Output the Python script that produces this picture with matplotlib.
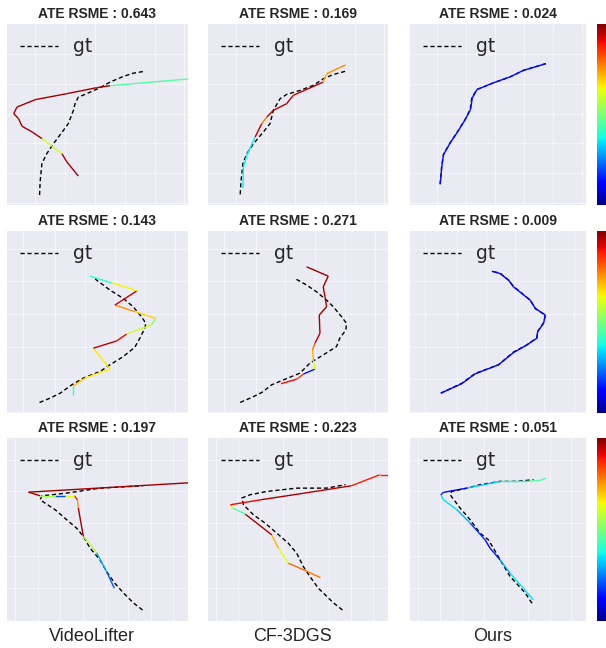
import numpy as np
import matplotlib
matplotlib.use("Agg")
import matplotlib.pyplot as plt
import seaborn as sns
from matplotlib.collections import LineCollection
from matplotlib.lines import Line2D

sns.set_style("darkgrid")
plt.rcParams['font.family'] = ['DejaVu Sans']

# trajectories in panel units (0-100), gt = dashed ground truth, est = coloured estimate
# row 1
gt_11 = [(18.0, 5.5), (18.3, 12.8), (19.3, 22.9), (22.0, 28.4), (25.7, 33.9), (31.2, 41.3), (33.9, 45.0),
         (36.7, 52.3), (37.6, 56.0), (39.4, 59.6), (44.0, 61.5), (51.4, 64.8), (56.9, 67.9), (64.2, 71.0),
         (69.7, 72.8), (76.1, 73.9)]
est_11 = [(39.4, 16.0), (33.0, 23.9), (30.3, 28.4), (19.3, 36.7), (13.8, 40.4), (8.3, 43.5), (6.4, 47.7),
          (3.7, 50.5), (5.5, 54.1), (15.6, 58.2), (33.0, 61.5), (49.5, 64.8), (56.9, 65.9), (102.0, 69.8)]
err_11 = [0.97, 0.97, 0.6, 0.97, 0.97, 0.97, 0.97, 0.97, 0.97, 0.97, 0.97, 0.97, 0.45]

gt_12 = [(17.9, 5.9), (18.3, 12.8), (19.4, 22.9), (21.6, 28.4), (25.3, 33.9), (30.8, 40.4), (34.5, 45.0),
         (36.3, 52.3), (40.0, 58.7), (43.7, 61.1), (51.1, 63.3), (58.5, 66.1), (64.0, 69.7), (69.6, 72.1),
         (76.4, 73.9)]
est_12 = [(19.4, 9.2), (19.7, 21.1), (21.6, 27.5), (26.2, 37.6), (29.9, 45.0), (32.7, 48.6), (36.3, 52.3),
          (43.7, 56.0), (47.4, 60.6), (64.0, 67.9), (65.9, 72.5), (76.4, 77.4)]
err_12 = [0.36, 0.36, 0.36, 0.95, 0.78, 0.95, 0.95, 0.95, 0.95, 0.72, 0.76]

gt_13 = [(17.1, 11.4), (18.0, 21.5), (19.0, 27.9), (22.8, 34.4), (26.6, 39.9), (31.3, 47.2), (34.2, 52.8),
         (35.1, 59.2), (38.0, 63.8), (47.4, 67.5), (56.9, 70.8), (64.5, 74.4), (77.2, 78.1)]
est_13 = [(17.2, 11.6), (18.1, 21.5), (19.1, 27.9), (22.9, 34.4), (26.7, 39.9), (31.4, 47.2), (34.4, 52.8),
          (35.4, 59.2), (38.1, 63.8), (47.4, 67.5), (56.9, 70.8), (64.5, 74.4), (77.2, 78.1)]
err_13 = [0.14] * 12

# row 2
gt_21 = [(18.0, 5.8), (23.9, 8.2), (29.4, 10.9), (35.8, 15.5), (42.2, 19.2), (51.4, 22.8), (56.9, 26.5),
         (64.2, 31.0), (70.6, 36.1), (73.4, 41.1), (76.1, 46.5), (76.7, 49.3), (74.3, 52.9), (69.7, 58.4),
         (64.2, 63.0), (56.9, 67.5), (53.2, 70.3), (49.5, 73.0), (48.6, 73.9)]
est_21 = [(36.3, 10.0), (36.3, 14.6), (43.1, 19.2), (56.9, 24.1), (47.7, 35.6), (60.6, 39.6), (66.1, 43.4),
          (79.8, 48.4), (82.2, 52.0), (70.6, 55.7), (59.6, 59.3), (71.9, 67.2), (57.8, 71.5), (45.9, 75.2)]
err_21 = [0.4, 0.7, 0.66, 0.66, 0.95, 0.9, 0.6, 0.5, 0.68, 0.75, 0.93, 0.65, 0.4]

gt_22 = [(17.9, 5.8), (24.4, 8.6), (29.9, 11.3), (35.4, 15.5), (41.9, 18.2), (51.1, 21.9), (56.6, 27.4),
         (64.0, 31.9), (71.4, 36.5), (73.2, 41.1), (76.6, 45.6), (76.9, 49.3), (74.2, 52.9), (69.6, 58.4),
         (65.9, 62.0), (60.3, 66.6), (54.8, 70.3), (48.3, 73.9)]
est_22 = [(40.6, 16.1), (49.3, 18.6), (53.0, 21.4), (59.4, 24.1), (58.5, 29.2), (58.1, 34.7), (59.4, 38.3),
          (62.2, 43.8), (61.8, 53.8), (65.9, 58.4), (65.0, 63.9), (64.0, 69.3), (66.8, 75.2), (54.8, 80.3)]
err_22 = [0.9, 0.85, 0.15, 0.62, 0.72, 0.8, 0.95, 0.97, 0.97, 0.97, 0.97, 0.97, 0.97]

gt_23 = [(17.5, 10.9), (29.4, 16.3), (37.0, 21.7), (50.3, 26.5), (58.8, 33.5), (66.4, 37.4), (72.1, 41.3),
         (72.5, 44.7), (75.9, 49.6), (76.9, 53.8), (71.2, 57.3), (68.3, 62.0), (58.8, 69.6), (56.0, 73.0),
         (51.2, 76.8), (46.5, 77.9)]
est_23 = [(17.5, 10.9), (29.4, 16.1), (37.0, 21.5), (50.3, 26.5), (58.8, 33.2), (66.4, 37.4), (72.1, 41.1),
          (72.5, 44.7), (75.9, 49.3), (76.9, 53.8), (71.2, 57.5), (68.3, 62.0), (58.8, 69.3), (56.0, 73.0),
          (51.2, 76.6), (46.5, 77.9)]
err_23 = [0.13] * 15

# row 3
gt_31 = [(74.9, 6.0), (69.7, 10.0), (64.2, 15.5), (59.6, 20.6), (55.0, 27.0), (51.4, 33.4), (45.9, 39.8),
         (42.2, 46.2), (38.5, 50.7), (33.0, 55.3), (26.6, 60.8), (18.3, 66.2), (19.3, 68.4), (33.0, 69.9),
         (51.4, 72.6), (75.2, 73.9)]
est_31 = [(59.3, 17.9), (55.0, 27.0), (49.5, 37.4), (42.2, 46.2), (39.4, 61.7), (38.9, 66.2), (37.2, 68.4),
          (32.1, 68.4), (26.6, 68.4), (18.3, 68.4), (11.9, 70.4), (102.0, 75.6)]
err_31 = [0.22, 0.3, 0.57, 0.97, 0.75, 0.88, 0.62, 0.2, 0.55, 0.97, 0.97]

gt_32 = [(74.7, 6.0), (69.6, 10.0), (61.3, 17.9), (56.6, 24.3), (53.0, 29.7), (49.3, 37.0), (44.6, 42.5),
         (38.2, 48.0), (31.7, 53.5), (25.3, 58.0), (19.7, 63.5), (18.8, 67.2), (23.4, 69.0), (32.7, 70.8),
         (49.3, 72.6), (65.9, 72.6), (76.4, 74.5)]
est_32 = [(62.5, 23.7), (54.4, 27.4), (44.6, 31.6), (39.1, 39.8), (35.4, 47.1), (20.7, 58.4), (13.8, 61.7),
          (12.4, 63.5), (29.0, 66.2), (51.1, 69.5), (79.7, 73.9), (95.4, 79.9), (101.0, 79.9)]
err_32 = [0.78, 0.8, 0.63, 0.72, 0.97, 0.45, 0.65, 0.9, 0.97, 0.95, 0.88, 0.88]

gt_33 = [(69.3, 9.7), (65.5, 15.3), (56.9, 24.3), (51.2, 33.4), (47.4, 39.8), (44.6, 44.3), (39.8, 48.0),
         (34.2, 55.3), (28.5, 61.7), (22.8, 69.0), (23.7, 70.8), (32.3, 72.6), (39.8, 74.5), (51.2, 76.3),
         (60.7, 76.3), (70.2, 77.2)]
est_33 = [(70.2, 11.5), (56.9, 26.1), (51.2, 33.4), (45.5, 39.8), (42.7, 44.3), (34.2, 53.5), (26.6, 60.8),
          (19.0, 66.2), (17.5, 69.0), (19.0, 70.3), (32.3, 72.6), (51.2, 76.3), (66.4, 76.3), (74.0, 76.8),
          (77.2, 78.1)]
err_33 = [0.35, 0.3, 0.15, 0.12, 0.18, 0.3, 0.35, 0.35, 0.15, 0.1, 0.32, 0.38, 0.45, 0.45]

ate = [["0.643", "0.169", "0.024"],
       ["0.143", "0.271", "0.009"],
       ["0.197", "0.223", "0.051"]]
methods = ["VideoLifter", "CF-3DGS", "Ours"]

gts = [[gt_11, gt_12, gt_13], [gt_21, gt_22, gt_23], [gt_31, gt_32, gt_33]]
ests = [[est_11, est_12, est_13], [est_21, est_22, est_23], [est_31, est_32, est_33]]
errs = [[err_11, err_12, err_13], [err_21, err_22, err_23], [err_31, err_32, err_33]]

# grid line positions per row
xticks_rows = [[15.5, 32, 48.5, 65, 81.5, 98], [8.8, 26.5, 43, 59.7, 76, 93],
               [4.6, 16.9, 29.4, 41.8, 54.7, 67, 79.4, 91.7]]
yticks_rows = [[1, 17.5, 34, 50.5, 67, 83.5], [0.6, 18.6, 36.5, 54.4, 72.4, 90.3],
               [17.9, 35.6, 53.5, 71.2, 88.1]]

W, H = 606, 648
fig = plt.figure(figsize=(W / 100, H / 100), dpi=100)
lefts = [7, 208, 410]
widths = [181, 180, 176]
tops = [24, 231, 438]
heights = [181, 182, 183]

for r in range(3):
    for c in range(3):
        ax = fig.add_axes([lefts[c] / W, 1 - (tops[r] + heights[r]) / H, widths[c] / W, heights[r] / H])
        ax.set_facecolor("#EAEAF2")
        g = np.array(gts[r][c])
        ax.plot(g[:, 0], g[:, 1], color="black", ls=(0, (3, 2)), lw=1.0, label="gt", zorder=2)
        e = np.array(ests[r][c])
        segs = np.stack([e[:-1], e[1:]], axis=1)
        lc = LineCollection(segs, cmap="jet", norm=plt.Normalize(0, 1), lw=1.0, zorder=3)
        lc.set_array(np.array(errs[r][c]))
        ax.add_collection(lc)
        ax.set_xlim(0, 100)
        ax.set_ylim(0, 100)
        ax.set_xticks(xticks_rows[r])
        ax.set_yticks(yticks_rows[r])
        ax.tick_params(labelbottom=False, labelleft=False, length=0)
        ax.grid(True, color="white", lw=0.5, alpha=0.8)
        for s in ax.spines.values():
            s.set_visible(False)
        ax.set_title("ATE RSME : " + ate[r][c], fontsize=10, fontweight="bold",
                     family="Liberation Sans", pad=4)
        ax.legend(handles=[Line2D([], [], color="black", ls=(0, (3, 2)), lw=1.0)], labels=["gt"],
                  loc="upper left", frameon=False, fontsize=13.5, handlelength=2.0,
                  borderaxespad=0.3)
        if r == 2:
            ax.text(0.47, -0.085, methods[c], transform=ax.transAxes, ha="center", va="center",
                    fontsize=13, family="Liberation Sans")
    cax = fig.add_axes([597 / W, 1 - (tops[r] + heights[r]) / H, 9 / W, heights[r] / H])
    sm = plt.cm.ScalarMappable(cmap="jet", norm=plt.Normalize(0, 1))
    cb = fig.colorbar(sm, cax=cax)
    cb.set_ticks([])
    cb.outline.set_visible(False)

fig.savefig("out.png", dpi=100)
